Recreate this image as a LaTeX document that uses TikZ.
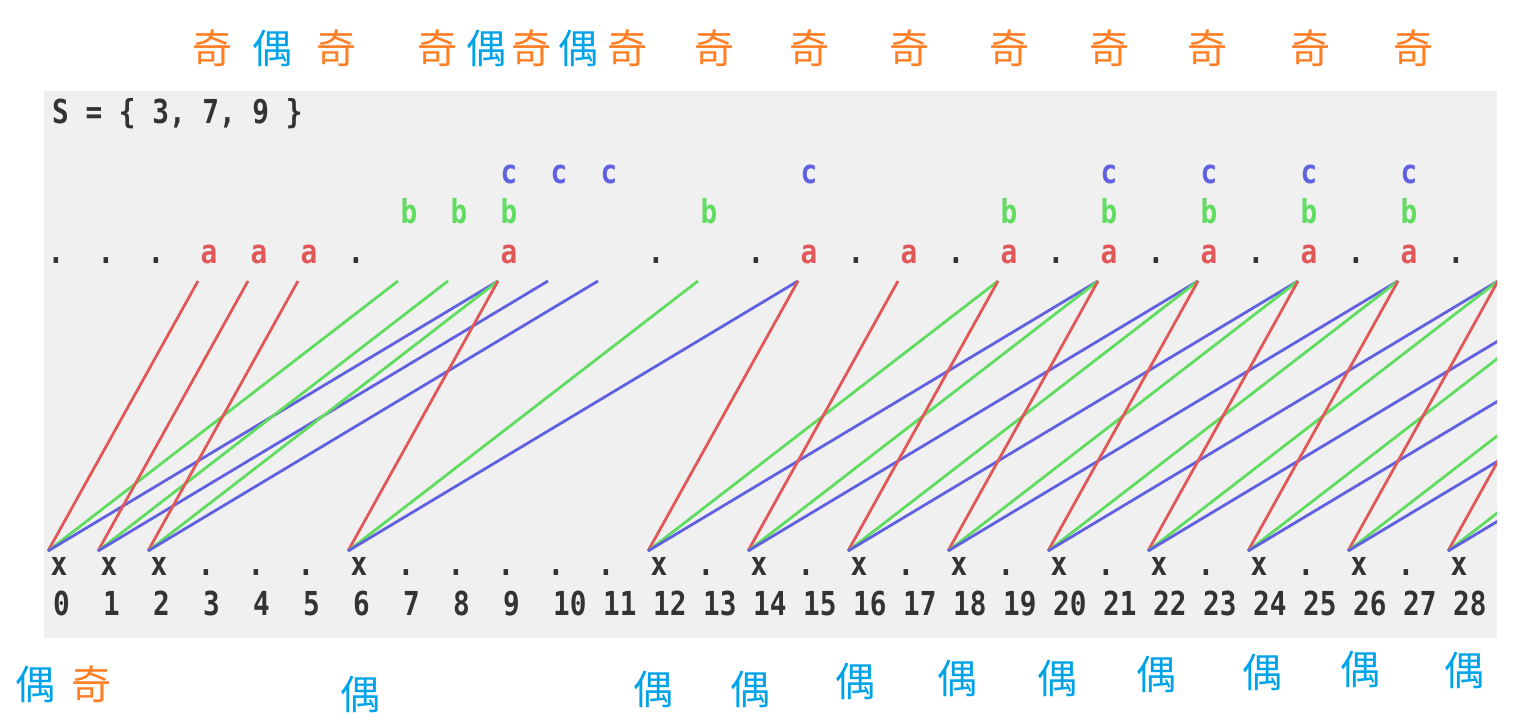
\documentclass[tikz,border=0pt]{standalone}
\usepackage{fontspec}
\setmainfont{DejaVu Sans}
\newfontfamily\pixfont{DejaVu Sans Mono Bold}[FakeStretch=0.84]
\newfontfamily\cjk{Noto Sans CJK SC}
\definecolor{gameRed}{RGB}{224, 88, 88}
\definecolor{gameGreen}{RGB}{96, 220, 96}
\definecolor{gameBlue}{RGB}{96, 96, 224}
\definecolor{oddOrange}{RGB}{255, 127, 39}
\definecolor{evenBlue}{RGB}{0, 162, 232}
\definecolor{panelGray}{RGB}{240, 240, 240}
\definecolor{inkGray}{RGB}{51, 51, 51}
\usepackage{tikz}
\usetikzlibrary{positioning}

\begin{document}
\begin{tikzpicture}[x=1pt, y=-1pt,
    pix/.style={font=\pixfont\fontsize{33}{33}\selectfont, text=inkGray,
                inner sep=0pt, anchor=base},
    odd/.style={font=\cjk\fontsize{40}{40}\selectfont, text=oddOrange, inner sep=0pt},
    even/.style={font=\cjk\fontsize{40}{40}\selectfont, text=evenBlue, inner sep=0pt},
    move/.style={line width=2.8pt}
  ]
    \useasboundingbox (0,0) rectangle (1522,725);
    \fill[panelGray] (44,91) rectangle (1497,638);

    \node[pix, anchor=base west] (set) at (52,123) {S = \{ 3, 7, 9 \}};

    % ends of the moves
    \foreach \n in {0,...,37} {
      \coordinate (bot\n) at ({48+50*\n},551);
      \coordinate (top\n) at ({48+50*\n},281);
    }

    \begin{scope}
      \clip (44,91) rectangle (1497,638);
      \foreach \n in {0,1,2,6,12,14,16,18,20,22,24,26,28} {
        \pgfmathtruncatemacro{\ma}{\n+3}
        \pgfmathtruncatemacro{\mb}{\n+7}
        \pgfmathtruncatemacro{\mc}{\n+9}
        \draw[move, gameRed] (bot\n) -- (top\ma);
        \draw[move, gameGreen] (bot\n) -- (top\mb);
        \draw[move, gameBlue] (bot\n) -- (top\mc);
      }
    \end{scope}

    % positions
    \foreach \n in {0,...,28}
      \node[pix, anchor=base west] (num\n) at ({50*\n+53},615) {\n};
    \foreach \n in {0,1,2,6,12,14,16,18,20,22,24,26,28} {
      \node[pix] (lose\n) at ({50*\n+59},575) {x};
      \node[pix] (stop\n) at ({50*\n+56},263) {.};
    }
    \foreach \n in {3,4,5,7,8,9,10,11,13,15,17,19,21,23,25,27}
      \node[pix] (win\n) at ({50*\n+56},575) {.};
    \foreach \n in {3,4,5,9,15,17,19,21,23,25,27}
      \node[pix, text=gameRed] (hitA\n) at ({50*\n+59},263) {a};
    \foreach \n in {7,8,9,13,19,21,23,25,27}
      \node[pix, text=gameGreen] (hitB\n) at ({50*\n+59},223) {b};
    \foreach \n in {9,10,11,15,21,23,25,27}
      \node[pix, text=gameBlue] (hitC\n) at ({50*\n+59},183) {c};

    % parity notes
    \foreach \x [count=\i] in {212,336,437,531,627,714,809,909,1009,1109,1207,1310,1413}
      \node[odd] (oddTop\i) at (\x,48) {奇};
    \foreach \x [count=\i] in {272,486,578}
      \node[even] (evenTop\i) at (\x,48) {偶};
    \node[odd] (oddLow) at (91,684) {奇};
    \foreach \x/\y [count=\i] in {36/684,360/694,653/689,750/689,855/681,957/678,
                                   1057/678,1156/674,1262/672,1360/669,1464/670}
      \node[even] (evenLow\i) at (\x,\y) {偶};
  \end{tikzpicture}
\end{document}
